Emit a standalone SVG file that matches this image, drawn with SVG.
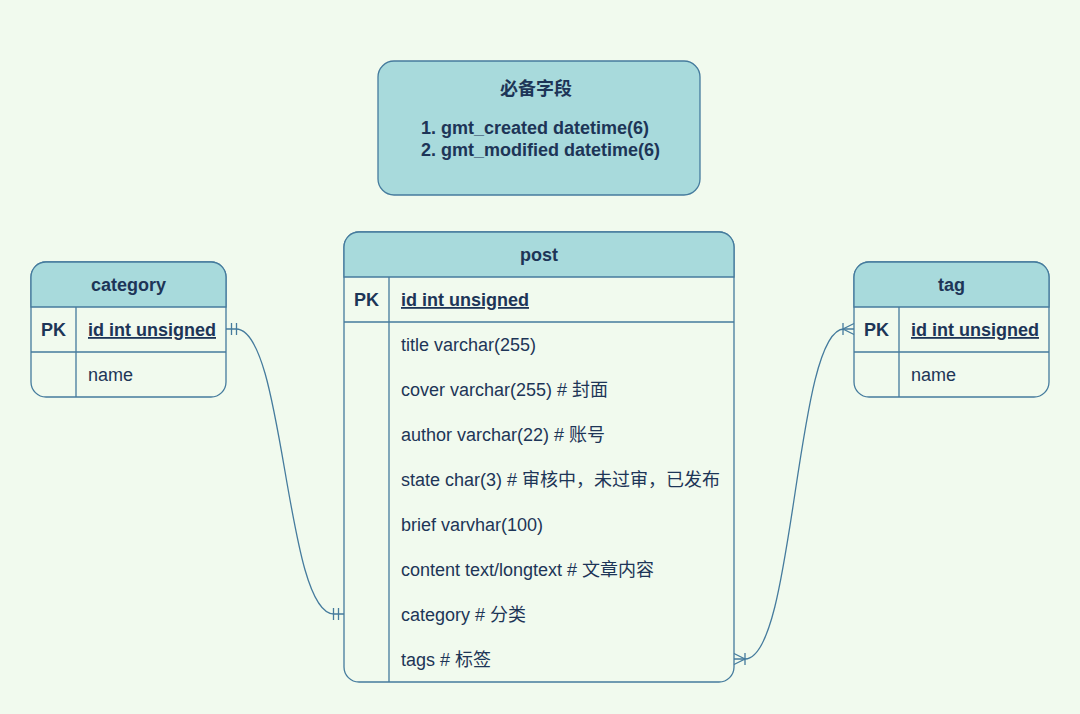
<svg xmlns="http://www.w3.org/2000/svg" width="1080" height="714" viewBox="0 0 1080 714">
<style>
.bg{fill:#F1FAEE}
.box{fill:#F1FAEE;stroke:#457B9D;stroke-width:1.3}
.hdr{fill:#A8DADC;stroke:#457B9D;stroke-width:1.3}
.ln{stroke:#457B9D;stroke-width:1.3;fill:none}
.t{font-family:"Liberation Sans","Noto Sans CJK SC",sans-serif;font-size:18px;fill:#1D3557}
.b{font-weight:bold}
.c{text-anchor:middle}
.u{text-decoration:underline}
.edge{stroke:#457B9D;stroke-width:1.3;fill:none}
</style>
<defs>
<marker id="one" markerUnits="userSpaceOnUse" viewBox="-14 -8 16 16" refX="0" refY="0" markerWidth="16" markerHeight="16" orient="auto-start-reverse" overflow="visible">
<path d="M-5.5,-6V6M-10.5,-6V6" stroke="#457B9D" stroke-width="1.3" fill="none"/>
</marker>
<marker id="many" markerUnits="userSpaceOnUse" viewBox="-14 -8 16 16" refX="0" refY="0" markerWidth="16" markerHeight="16" orient="auto-start-reverse" overflow="visible">
<path d="M0,-5.5L-11,0L0,5.5M-11,-6V6" stroke="#457B9D" stroke-width="1.3" fill="none"/>
</marker>
</defs>
<rect class="bg" x="0" y="0" width="1080" height="714"/>

<g id="note">
<rect class="hdr" x="378" y="61" width="322" height="134" rx="16"/>
<text class="t b c" x="536" y="95">必备字段</text>
<text class="t b" x="421" y="134">1. gmt_created datetime(6)</text>
<text class="t b" x="421" y="156">2. gmt_modified datetime(6)</text>
</g>

<g id="post">
<rect class="box" x="344" y="232" width="390" height="450" rx="15"/>
<path class="hdr" d="M344,277V247A15,15 0 0 1 359,232H719A15,15 0 0 1 734,247V277Z"/>
<path class="ln" d="M344,322H734M389,277V682"/>
<text class="t b c" x="539" y="261">post</text>
<text class="t b c" x="366.5" y="306">PK</text>
<text class="t b u" x="401" y="306">id int unsigned</text>
<text class="t" x="401" y="351">title varchar(255)</text>
<text class="t" x="401" y="396">cover varchar(255) # 封面</text>
<text class="t" x="401" y="441">author varchar(22) # 账号</text>
<text class="t" x="401" y="486">state char(3) # 审核中，未过审，已发布</text>
<text class="t" x="401" y="531">brief varvhar(100)</text>
<text class="t" x="401" y="576">content text/longtext # 文章内容</text>
<text class="t" x="401" y="621">category # 分类</text>
<text class="t" x="401" y="666">tags # 标签</text>
</g>

<g id="category">
<rect class="box" x="31" y="262" width="195" height="135" rx="15"/>
<path class="hdr" d="M31,307V277A15,15 0 0 1 46,262H211A15,15 0 0 1 226,277V307Z"/>
<path class="ln" d="M31,352H226M76,307V397"/>
<text class="t b c" x="128.5" y="291">category</text>
<text class="t b c" x="53.5" y="336">PK</text>
<text class="t b u" x="88" y="336">id int unsigned</text>
<text class="t" x="88" y="381">name</text>
</g>

<g id="tag">
<rect class="box" x="854" y="262" width="195" height="135" rx="15"/>
<path class="hdr" d="M854,307V277A15,15 0 0 1 869,262H1034A15,15 0 0 1 1049,277V307Z"/>
<path class="ln" d="M854,352H1049M899,307V397"/>
<text class="t b c" x="951.5" y="291">tag</text>
<text class="t b c" x="876.5" y="336">PK</text>
<text class="t b u" x="911" y="336">id int unsigned</text>
<text class="t" x="911" y="381">name</text>
</g>

<g id="connectors">
<path class="edge" d="M226,329L236,329C285,329 285,614 334,614L344,614" marker-start="url(#one)" marker-end="url(#one)"/>
<path class="edge" d="M854,329L844,329C795,329 795,659 745,659L734,659" marker-start="url(#many)" marker-end="url(#many)"/>
</g>
</svg>
